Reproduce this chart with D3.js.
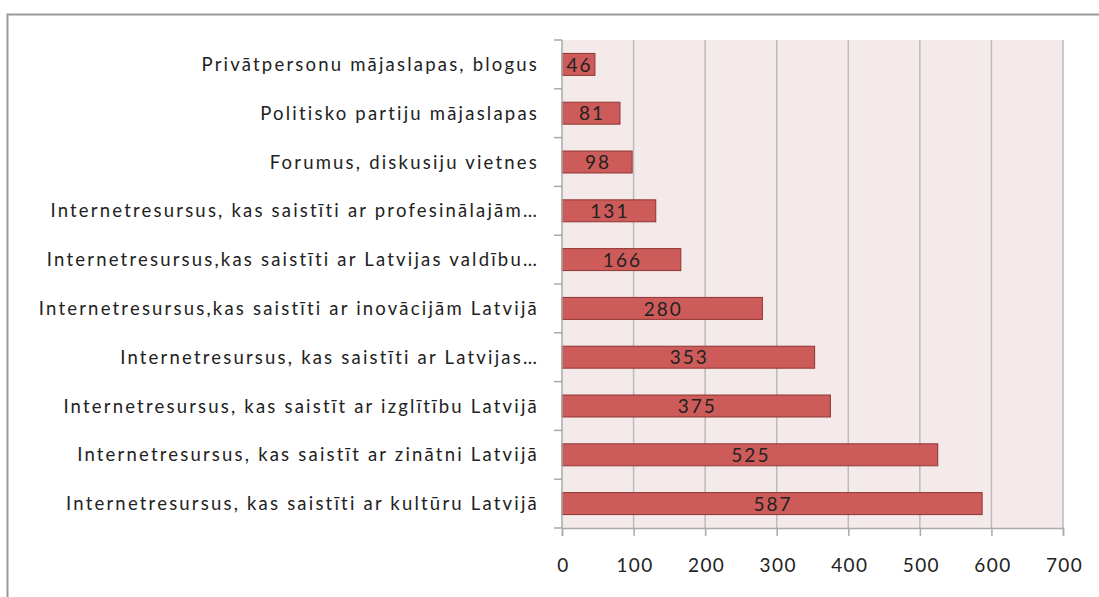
<!DOCTYPE html>
<html>
<head>
<meta charset="utf-8">
<script src="https://cdn.jsdelivr.net/npm/d3@7"></script>
<style>
  body { margin: 0; background: #fff; }
  text { font-family: Lato, "Open Sans", sans-serif; fill: #222; }
</style>
</head>
<body>
<div id="canvas"></div>
<script>
const categories = [
  'Privātpersonu mājaslapas, blogus',
  'Politisko partiju mājaslapas',
  'Forumus, diskusiju vietnes',
  'Internetresursus, kas saistīti ar profesinālajām…',
  'Internetresursus,kas saistīti ar Latvijas valdību…',
  'Internetresursus,kas saistīti ar inovācijām Latvijā',
  'Internetresursus, kas saistīti ar Latvijas…',
  'Internetresursus, kas saistīt ar izglītību Latvijā',
  'Internetresursus, kas saistīt ar zinātni Latvijā',
  'Internetresursus, kas saistīti ar kultūru Latvijā'
];
const values = [46, 81, 98, 131, 166, 280, 353, 375, 525, 587];
const xTicks = [0, 100, 200, 300, 400, 500, 600, 700];

const width = 1099, height = 597;
const margin = { top: 40, left: 562, right: 36, bottom: 69 };
const innerW = width - margin.left - margin.right;
const innerH = height - margin.top - margin.bottom;

const svg = d3.select('#canvas')
  .append('svg')
  .attr('width', width)
  .attr('height', height);

// outer frame
svg.append('rect')
  .attr('x', 7.5).attr('y', 14.5)
  .attr('width', 1200).attr('height', 700)
  .attr('fill', 'none')
  .attr('stroke', '#999')
  .attr('stroke-width', 2);

const g = svg.append('g').attr('transform', `translate(${margin.left},${margin.top})`);

const x = d3.scaleLinear().domain([0, 700]).range([0, innerW]);
const y = d3.scaleBand().domain(categories).range([0, innerH]).paddingInner(0.55).paddingOuter(0.275);

g.append('rect')
  .attr('width', innerW).attr('height', innerH)
  .attr('fill', '#F4EAEA');

// grid lines
g.selectAll('.grid')
  .data(xTicks.slice(1))
  .enter().append('line')
  .attr('x1', d => x(d)).attr('x2', d => x(d))
  .attr('y1', 0).attr('y2', innerH)
  .attr('stroke', '#BBBBBB').attr('stroke-width', 1.5);

// bars
g.selectAll('.bar')
  .data(values)
  .enter().append('rect')
  .attr('x', 0)
  .attr('y', (d, i) => y(categories[i]))
  .attr('width', d => x(d))
  .attr('height', y.bandwidth())
  .attr('fill', '#CD5B59')
  .attr('stroke', '#8E3533')
  .attr('stroke-width', 1);

g.selectAll('.val')
  .data(values)
  .enter().append('text')
  .attr('x', d => x(d) / 2 + 1)
  .attr('y', (d, i) => y(categories[i]) + y.bandwidth() / 2)
  .attr('dy', '0.38em')
  .attr('text-anchor', 'middle')
  .style('font-size', '19px')
  .style('letter-spacing', '2px')
  .text(d => d);

// x axis
const xAxis = g.append('g')
  .attr('transform', `translate(0,${innerH})`)
  .call(d3.axisBottom(x).tickValues(xTicks).tickSize(8).tickPadding(23).tickFormat(d3.format('d')));
xAxis.select('.domain').attr('stroke', '#AAAAAA').attr('stroke-width', 1.5);
xAxis.selectAll('.tick line').attr('stroke', '#AAAAAA').attr('stroke-width', 1.5);
xAxis.selectAll('text')
  .attr('dx', '1px')
  .style('font-size', '19px').style('letter-spacing', '1.4px').style('fill', '#222');

// y axis
const bounds = d3.range(categories.length + 1).map(i => i * innerH / categories.length);
g.append('line')
  .attr('x1', 0).attr('x2', 0).attr('y1', 0).attr('y2', innerH)
  .attr('stroke', '#AAAAAA').attr('stroke-width', 1.5);
g.selectAll('.ytick')
  .data(bounds)
  .enter().append('line')
  .attr('x1', -8).attr('x2', 0)
  .attr('y1', d => d).attr('y2', d => d)
  .attr('stroke', '#AAAAAA').attr('stroke-width', 1.5);

g.selectAll('.cat')
  .data(categories)
  .enter().append('text')
  .attr('x', -23)
  .attr('y', d => y(d) + y.bandwidth() / 2)
  .attr('dy', '0.36em')
  .attr('text-anchor', 'end')
  .style('font-size', '18.5px')
  .style('letter-spacing', '2.2px')
  .text(d => d);
</script>
</body>
</html>
